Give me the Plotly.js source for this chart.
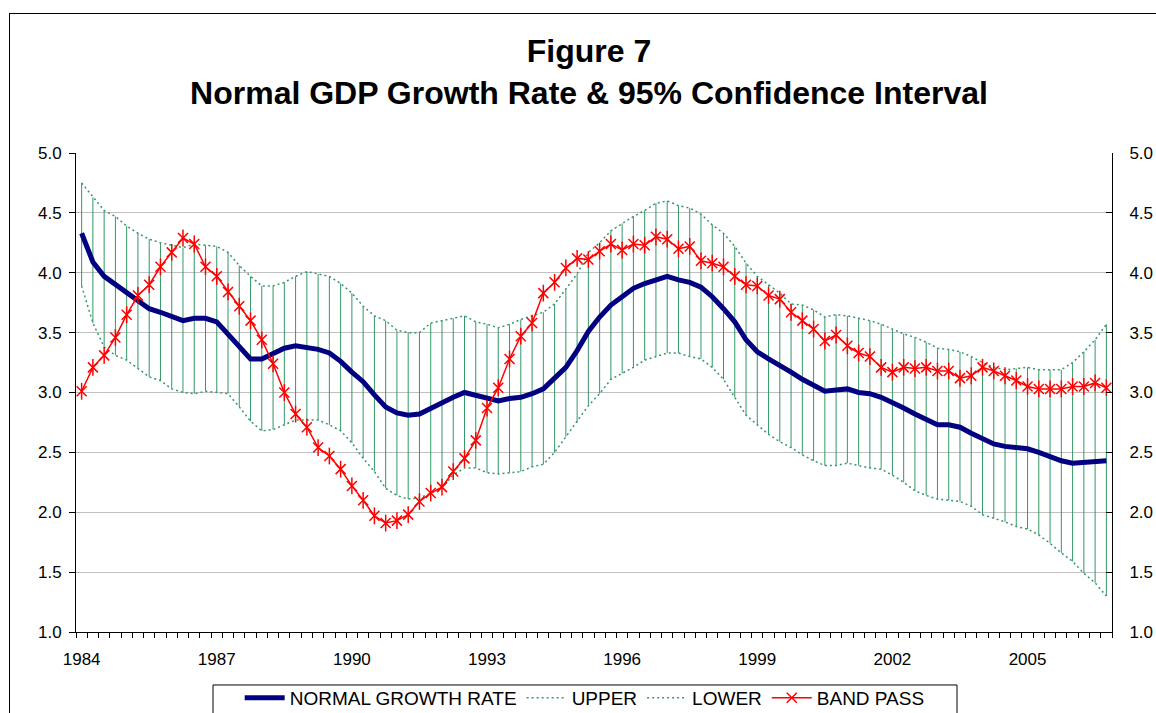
<!DOCTYPE html>
<html>
<head>
<meta charset="utf-8">
<script src="https://cdn.plot.ly/plotly-3.0.1.min.js"></script>
<style>
  html, body { margin: 0; padding: 0; background: #fff; overflow: hidden; }
  #chart { width: 1156px; height: 713px; position: absolute; left: 0; top: 0; }
  #frame { position: absolute; left: 9px; top: 13px; width: 1200px; height: 760px; border: 1px solid #000; pointer-events: none; }
</style>
</head>
<body>
<div id="chart"></div>
<div id="frame"></div>
<script>
// Quarterly observations, 1984Q1 .. 2006Q4
const yearLabels = ['1984', '1987', '1990', '1993', '1996', '1999', '2002', '2005'];

const normalGrowth = [
  4.33, 4.09, 3.97, 3.90, 3.84, 3.77, 3.70, 3.67, 3.63, 3.60,
  3.62, 3.62, 3.59, 3.49, 3.38, 3.28, 3.28, 3.33, 3.37, 3.39,
  3.38, 3.36, 3.33, 3.26, 3.17, 3.09, 2.98, 2.88, 2.83, 2.81,
  2.82, 2.87, 2.92, 2.96, 3.00, 2.98, 2.95, 2.93, 2.95, 2.96,
  2.99, 3.03, 3.12, 3.21, 3.35, 3.51, 3.63, 3.73, 3.80, 3.87,
  3.91, 3.94, 3.97, 3.94, 3.92, 3.88, 3.80, 3.70, 3.59, 3.44,
  3.34, 3.28, 3.23, 3.17, 3.11, 3.06, 3.01, 3.02, 3.03, 3.00,
  2.99, 2.96, 2.92, 2.87, 2.82, 2.77, 2.73, 2.73, 2.71, 2.66,
  2.62, 2.57, 2.55, 2.54, 2.53, 2.50, 2.46, 2.43, 2.41, 2.42,
  2.43, 2.43
];

const upper = [
  4.75, 4.63, 4.52, 4.47, 4.39, 4.33, 4.28, 4.25, 4.23, 4.21,
  4.24, 4.23, 4.22, 4.17, 4.06, 3.97, 3.89, 3.89, 3.92, 3.97,
  4.01, 3.99, 3.97, 3.91, 3.83, 3.72, 3.64, 3.60, 3.52, 3.50,
  3.50, 3.58, 3.60, 3.62, 3.64, 3.59, 3.57, 3.54, 3.57, 3.61,
  3.64, 3.67, 3.74, 3.86, 3.99, 4.17, 4.25, 4.35, 4.41, 4.47,
  4.52, 4.58, 4.60, 4.56, 4.54, 4.49, 4.40, 4.33, 4.22, 4.08,
  3.97, 3.90, 3.83, 3.74, 3.73, 3.69, 3.63, 3.65, 3.64, 3.62,
  3.60, 3.57, 3.53, 3.49, 3.46, 3.42, 3.37, 3.36, 3.34, 3.30,
  3.25, 3.21, 3.19, 3.20, 3.21, 3.19, 3.19, 3.19, 3.25, 3.34,
  3.44, 3.57
];

const lower = [
  3.89, 3.58, 3.38, 3.31, 3.27, 3.20, 3.13, 3.10, 3.03, 3.00,
  2.99, 3.01, 3.00, 2.99, 2.88, 2.76, 2.68, 2.69, 2.73, 2.77,
  2.77, 2.77, 2.73, 2.68, 2.58, 2.45, 2.34, 2.20, 2.14, 2.11,
  2.12, 2.16, 2.21, 2.31, 2.37, 2.37, 2.33, 2.32, 2.33, 2.34,
  2.38, 2.40, 2.50, 2.63, 2.75, 2.89, 2.99, 3.11, 3.16, 3.21,
  3.27, 3.30, 3.33, 3.33, 3.30, 3.28, 3.21, 3.11, 2.96, 2.81,
  2.73, 2.65, 2.59, 2.54, 2.48, 2.43, 2.39, 2.39, 2.41, 2.39,
  2.37, 2.36, 2.31, 2.25, 2.18, 2.14, 2.11, 2.10, 2.09, 2.05,
  1.98, 1.95, 1.92, 1.88, 1.86, 1.81, 1.74, 1.66, 1.59, 1.49,
  1.41, 1.30
];

const bandPass = [
  3.01, 3.21, 3.31, 3.46, 3.65, 3.81, 3.90, 4.05, 4.17, 4.29,
  4.24, 4.05, 3.97, 3.84, 3.72, 3.60, 3.44, 3.24, 3.00, 2.82,
  2.71, 2.54, 2.47, 2.36, 2.22, 2.10, 1.97, 1.91, 1.93, 1.98,
  2.09, 2.16, 2.21, 2.34, 2.45, 2.60, 2.87, 3.04, 3.28, 3.47,
  3.58, 3.83, 3.92, 4.04, 4.12, 4.11, 4.18, 4.24, 4.19, 4.24,
  4.23, 4.30, 4.28, 4.20, 4.22, 4.10, 4.08, 4.05, 3.97, 3.90,
  3.89, 3.81, 3.78, 3.67, 3.60, 3.53, 3.43, 3.48, 3.39, 3.33,
  3.30, 3.21, 3.17, 3.21, 3.20, 3.21, 3.18, 3.18, 3.12, 3.14,
  3.21, 3.18, 3.14, 3.10, 3.05, 3.03, 3.03, 3.03, 3.05, 3.05,
  3.08, 3.04
];

// category positions (one per quarter)
const qIndex = normalGrowth.map((_, i) => i);
const yearTickVals = yearLabels.map((_, k) => k * 12);

// high-low connector lines between UPPER and LOWER
const hlX = [], hlY = [];
qIndex.forEach(i => { hlX.push(i, i, null); hlY.push(lower[i], upper[i], null); });

const green = '#339966';
const FONT = 'Liberation Sans, Arial, sans-serif';

const traces = [
  { x: hlX, y: hlY, type: 'scatter', mode: 'lines', line: { color: green, width: 1 },
    showlegend: false, hoverinfo: 'skip' },
  { x: qIndex, y: normalGrowth, type: 'scatter', mode: 'lines', name: 'NORMAL GROWTH RATE',
    line: { color: '#000080', width: 5 } },
  { x: qIndex, y: upper, type: 'scatter', mode: 'lines', name: 'UPPER',
    line: { color: green, width: 1.5, dash: '2px,3px' } },
  { x: qIndex, y: lower, type: 'scatter', mode: 'lines', name: 'LOWER',
    line: { color: green, width: 1.5, dash: '2px,3px' } },
  { x: qIndex, y: bandPass, type: 'scatter', mode: 'lines+markers', name: 'BAND PASS',
    line: { color: '#ff0000', width: 1.5 },
    marker: { symbol: 'x-thin-open', size: 10, color: '#ff0000', line: { color: '#ff0000', width: 1.5 } } },
  { x: qIndex, y: bandPass, type: 'scatter', mode: 'markers', showlegend: false, hoverinfo: 'skip',
    yaxis: 'y2',
    marker: { symbol: 'line-ns-open', size: 12, color: '#ff0000', line: { color: '#ff0000', width: 1.5 } } }
];

const yCommon = {
  range: [1, 5], dtick: 0.5, tick0: 1, tickformat: '.1f',
  showline: true, linecolor: '#000', linewidth: 1,
  tickfont: { family: FONT, size: 17, color: '#000' },
  ticklen: 6, tickcolor: '#000', zeroline: false, fixedrange: true
};

const layout = {
  width: 1156, height: 713,
  margin: { l: 76, r: 44, t: 153, b: 81, autoexpand: false },
  paper_bgcolor: 'rgba(0,0,0,0)', plot_bgcolor: '#fff',
  title: {
    text: 'Figure 7<br>Normal GDP Growth Rate & 95% Confidence Interval',
    font: { family: FONT, size: 32, color: '#000', weight: 'bold' },
    x: 0.5095, xanchor: 'center', xref: 'container',
    y: 0.913, yanchor: 'top', yref: 'container'
  },
  xaxis: {
    range: [-0.5, 91.5], showgrid: false, zeroline: false,
    showline: true, linecolor: '#000', linewidth: 1,
    tickmode: 'array', tickvals: yearTickVals, ticktext: yearLabels,
    ticks: '', ticklabelstandoff: 12,
    tickfont: { family: FONT, size: 17, color: '#000' },
    minor: { tick0: -0.5, dtick: 1, ticks: 'outside', ticklen: 5, tickcolor: '#000', showgrid: false },
    fixedrange: true
  },
  yaxis: Object.assign({}, yCommon, {
    side: 'left', ticks: 'outside', showgrid: true, gridcolor: '#c0c0c0', gridwidth: 1,
    ticklabelstandoff: 4
  }),
  yaxis2: Object.assign({}, yCommon, {
    overlaying: 'y', side: 'right', ticks: 'inside', showgrid: false, ticklabelstandoff: 13
  }),
  yaxis3: Object.assign({}, yCommon, {
    overlaying: 'y', side: 'left', ticks: 'inside', showgrid: false, showticklabels: false
  }),
  shapes: [
    { type: 'rect', xref: 'paper', yref: 'paper',
      x0: (213 - 76) / 1036, x1: (957 - 76) / 1036, y0: -0.1106, y1: -0.21,
      line: { color: '#000', width: 1 }, fillcolor: 'rgba(0,0,0,0)', layer: 'above' }
  ],
  showlegend: true,
  legend: {
    orientation: 'h', x: 0.491, xanchor: 'center', y: -0.098, yanchor: 'top',
    borderwidth: 0, bgcolor: 'rgba(0,0,0,0)',
    font: { family: FONT, size: 19, color: '#000' },
    itemwidth: 40, tracegroupgap: 0
  }
};

Plotly.newPlot('chart', traces, layout, { displayModeBar: false, staticPlot: true });
</script>
</body>
</html>
